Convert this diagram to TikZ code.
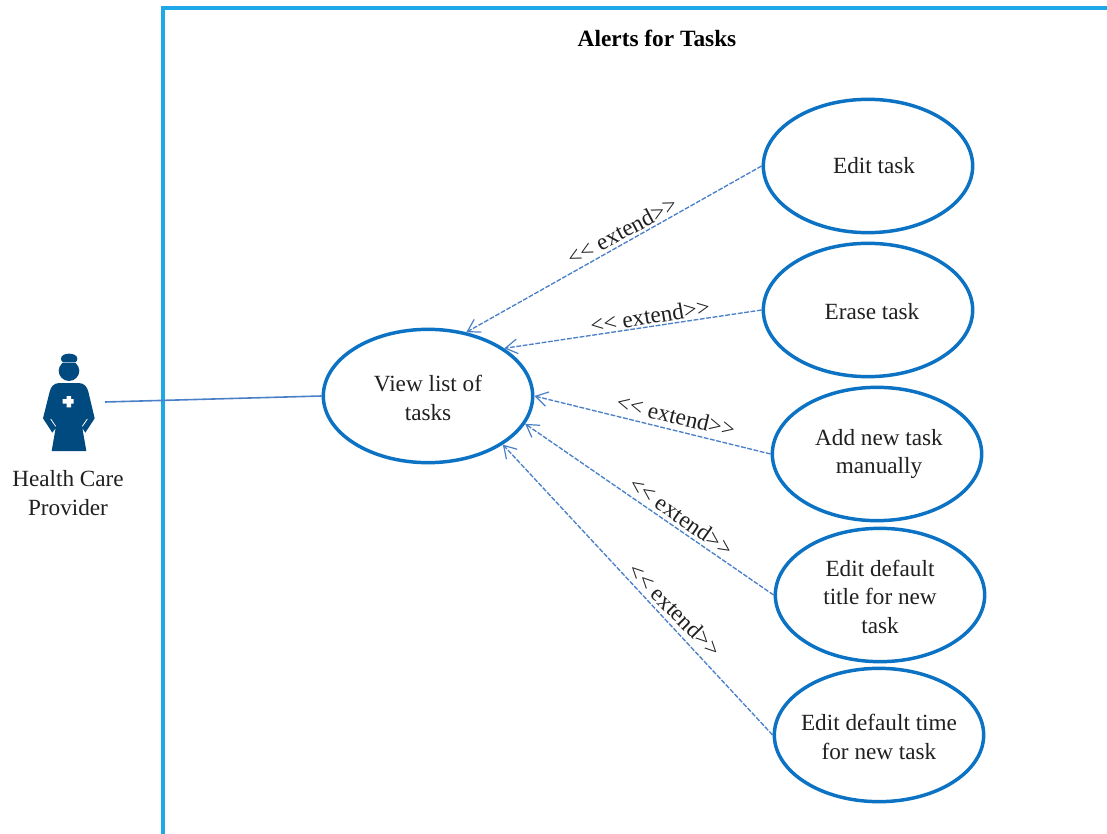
\documentclass[tikz,border=0pt]{standalone}
\usepackage{fontspec}
\setmainfont{Liberation Serif}
\usetikzlibrary{arrows.meta,shapes.geometric}
\definecolor{framec}{HTML}{1EA8E8}
\definecolor{ellc}{HTML}{0B72C4}
\definecolor{linkc}{HTML}{4A80C8}
\definecolor{nursec}{HTML}{004A80}
\definecolor{textc}{HTML}{202020}
\newcommand{\lowertext}{\rule{0pt}{15pt}}
\tikzset{
  usecase/.style={ellipse,draw=ellc,line width=2.6pt,fill=white,minimum width=157pt,minimum height=100pt,inner sep=-16pt,align=center,font=\fontsize{17.4}{21.5}\selectfont,text=textc},
  extlink/.style={draw=linkc,line width=1pt,dash pattern=on 3.6pt off 1.2pt,-{Straight Barb[length=9pt,width=11pt,line width=0.9pt]}},
  assoc/.style={draw=linkc,line width=1.2pt},
  extlabel/.style={font=\fontsize{17.5}{20}\selectfont,text=textc,inner sep=0pt},
  plainlabel/.style={font=\fontsize{17.4}{21.5}\selectfont,text=textc,align=center,inner sep=0pt}
}
\begin{document}
\begin{tikzpicture}[x=0.75pt,y=-0.75pt]
\useasboundingbox (0,0) rectangle (1107,834);
\fill[white] (0,0) rectangle (1107,834);
% system frame
\draw[framec,line width=2.4pt] (163,834) -- (163,8) -- (1107,8);
\node[font=\bfseries\fontsize{17.5}{20}\selectfont,text=black,inner sep=0pt] (title) at (657,38) {Alerts for Tasks};
% use cases
\node[usecase] (view) at (428,396) {\lowertext View list of\\tasks};
\node[usecase] (edit) at (868,166) {\kern9ptEdit task};
\node[usecase] (erase) at (868,310) {\lowertext\kern6ptErase task};
\node[usecase] (add) at (877,454) {\kern3ptAdd new task\\\kern3ptmanually};
\node[usecase] (etitle) at (880,595) {\lowertext Edit default\\title for new\\task};
\node[usecase] (etime) at (879,735) {\lowertext Edit default time\\for new task};
% actor
\begin{scope}[shift={(35,350)},x=0.25pt,y=-0.25pt]
\fill[nursec] (78,26) .. controls (78,16) and (90,11) .. (102,11) .. controls (115,11) and (127,16) .. (127,26) .. controls (127,32) and (124,36) .. (120,37) -- (85,37) .. controls (81,36) and (78,32) .. (78,26) -- cycle;
\fill[nursec] (82,39) -- (122,39) .. controls (129,46) and (133,54) .. (133,62) .. controls (133,79) and (119,93) .. (102,93) .. controls (85,93) and (71,79) .. (71,62) .. controls (71,54) and (75,46) .. (82,39) -- cycle;
\fill[nursec] (72,99) -- (132,99) .. controls (148,100) and (156,110) .. (160,125) -- (179,205) -- (151,248) -- (142,234) -- (154,303) -- (50,303) -- (62,234) -- (52,248) -- (24,205) -- (44,125) .. controls (48,110) and (56,100) .. (72,99) -- cycle;
\draw[white,line width=0.6pt] (47,207) -- (62,229) (157,207) -- (142,229);
\fill[white] (95,138) -- (108,138) -- (108,147) -- (116,147) -- (116,161) -- (108,161) -- (108,172) -- (95,172) -- (95,161) -- (83,161) -- (83,147) -- (95,147) -- cycle;
\end{scope}
\coordinate (actor) at (105,402);
\node[plainlabel] (actorlabel) at (68,493) {Health Care\\Provider};
% connectors
\draw[assoc] (actor) -- (view.west);
\draw[extlink] (edit.west) -- (view.59);
\draw[extlink] (erase.west) -- (view.32);
\draw[extlink] (add.west) -- (view.0);
\draw[extlink] (etitle.west) -- (view.-16.6);
\draw[extlink] (etime.west) -- (view.-33);
% labels
\node[extlabel,rotate=28] (l1) at (622,231) {<{}< extend>{}>};
\node[extlabel,rotate=9.5] (l2) at (650,316) {<{}< extend>{}>};
\node[extlabel,rotate=-13.5] (l3) at (676,416) {<{}< extend>{}>};
\node[extlabel,rotate=-35] (l4) at (681.5,516.5) {<{}< extend>{}>};
\node[extlabel,rotate=-45] (l5) at (675,610) {<{}< extend>{}>};
\end{tikzpicture}
\end{document}
